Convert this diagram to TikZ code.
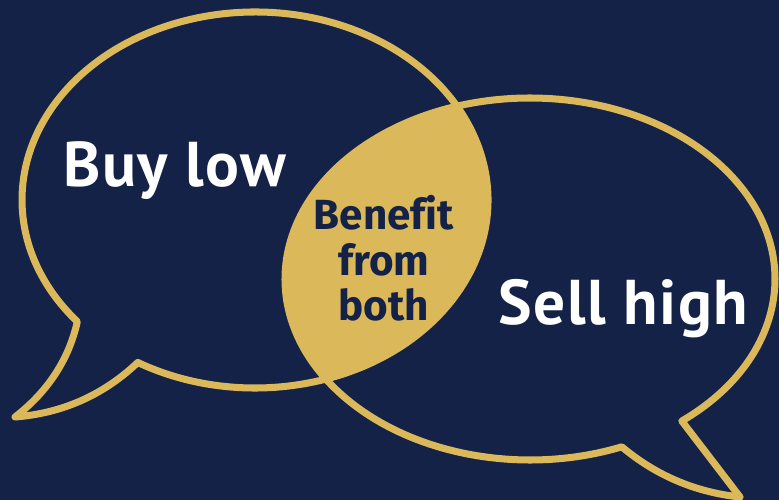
\documentclass[tikz,border=0pt]{standalone}
\usepackage{fontspec}
\setmainfont[Ligatures=NoCommon]{Fira Sans}
\newfontfamily\bubblefont[LetterSpace=2.5]{PT Sans}
\usepackage{xcolor}
\definecolor{navy}{HTML}{142247}
\definecolor{gold}{HTML}{DBB95A}
\usetikzlibrary{positioning,calc}

\begin{document}
\begin{tikzpicture}[x=0.02cm,y=0.02cm,
    outline/.style={draw=gold, line width=4pt, line join=round},
    bigtext/.style={text=white, inner sep=0pt, font=\bubblefont\bfseries\fontsize{36}{40}\selectfont},
    midtext/.style={text=navy, inner sep=0pt, align=center, font=\bfseries\fontsize{24}{26}\selectfont}]
    \fill[navy] (0,0) rectangle (779,500);
    \useasboundingbox (0,0) rectangle (779,500);
    \coordinate (leftc) at (255,300);
    \coordinate (rightc) at (530,221);

    \begin{scope}
        \clip (leftc) ellipse [x radius=233, y radius=188];
        \fill[gold] (rightc) ellipse [x radius=245, y radius=181];
    \end{scope}

    \draw[outline] ($(leftc)+(239.8:233 and 188)$) arc[start angle=239.8, end angle=580.3, x radius=233, y radius=188]
        .. controls (69,140.5) and (47.5,108) .. (15,83) coordinate (lefttip)
        .. controls (62.5,86.7) and (103.5,105) .. cycle;
    \draw[outline] ($(rightc)+(308.3:245 and 181)$) arc[start angle=308.3, end angle=652, x radius=245, y radius=181]
        .. controls (656.3,24.3) and (695.7,7.7) .. (740,3) coordinate (righttip)
        -- cycle;

    \node[bigtext, anchor=base west] (buy) at (63,313) {Buy low};
    \node[bigtext, anchor=base west] (sell) at (498,175) {Sell high};
    \node[midtext] (both) at (384,241.5) {Benefit\\from\\both};
\end{tikzpicture}
\end{document}
